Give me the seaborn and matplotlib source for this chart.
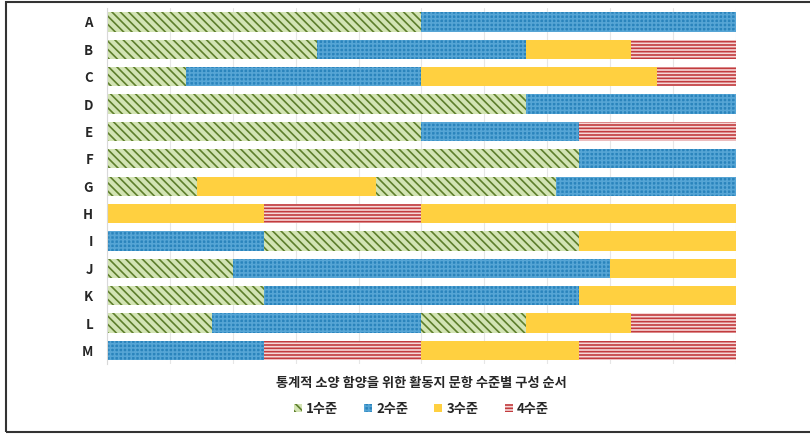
import pandas as pd
import seaborn as sns
import matplotlib.pyplot as plt
import matplotlib.patches as mpatches

# -------------------------
# data: order of item levels per worksheet (each item = equal share)
# -------------------------
rows = list("ABCDEFGHIJKLM")
seq_A = [1, 2]
seq_B = [1, 1, 2, 2, 3, 4]
seq_C = [1, 2, 2, 2, 3, 3, 3, 4]
seq_D = [1, 1, 1, 1, 2, 2]
seq_E = [1, 1, 2, 4]
seq_F = [1, 1, 1, 2]
seq_G = [1, 3, 3, 1, 1, 2, 2]
seq_H = [3, 4, 3, 3]
seq_I = [2, 1, 1, 3]
seq_J = [1, 2, 2, 2, 3]
seq_K = [1, 2, 2, 3]
seq_L = [1, 2, 2, 1, 3, 4]
seq_M = [2, 4, 3, 4]
level_names = ["1수준", "2수준", "3수준", "4수준"]
xlabel = "통계적 소양 함양을 위한 활동지 문항 수준별 구성 순서"

seqs = [seq_A, seq_B, seq_C, seq_D, seq_E, seq_F, seq_G,
        seq_H, seq_I, seq_J, seq_K, seq_L, seq_M]

# level -> (face, hatch, hatch colour)
styles = {
    1: ("#d3e4b4", "\\\\\\\\", "#5e7f2c"),
    2: ("#2a84bc", "++++", "#56a5d5"),
    3: ("#ffd040", "", "#ffd040"),
    4: ("#f5d8d8", "-----", "#c23b3e"),
}

recs = []
for r, s in zip(rows, seqs):
    n = len(s)
    for k, lv in enumerate(s):
        recs.append({"row": r, "k": k, "end": (k + 1) / n, "level": lv})
df = pd.DataFrame(recs)

sns.set_style("white")
plt.rcParams["font.family"] = ["Noto Sans CJK KR", "DejaVu Sans"]
plt.rcParams["hatch.linewidth"] = 1.2

fig = plt.figure(figsize=(8.1, 4.34), dpi=100)
ax = fig.add_axes([0.132, 0.161, 0.7765, 0.82])

# draw cumulative segments, longest first so shorter ones cover them
for k in sorted(df["k"].unique(), reverse=True):
    sub = df[df["k"] == k].set_index("row")
    n0 = len(ax.patches)
    sns.barplot(data=sub.reset_index(), x="end", y="row", order=rows,
                orient="h", width=0.7, errorbar=None, ax=ax, zorder=2)
    for p in ax.patches[n0:]:
        idx = int(round(p.get_y() + p.get_height() / 2))
        lv = sub.loc[rows[idx], "level"]
        face, hatch, hc = styles[lv]
        p.set_facecolor(face)
        p.set_edgecolor(hc)
        p.set_hatch(hatch)
        p.set_linewidth(0)

ax.set_xlim(0, 1)
ax.set_ylim(12.5, -0.5)
ax.set_xticks([i / 10 for i in range(11)])
ax.set_xticklabels([])
ax.tick_params(axis="x", length=0)
ax.tick_params(axis="y", length=0, pad=10)
ax.grid(axis="x", color="#e6e6e6", linewidth=0.8, zorder=0)
ax.set_axisbelow(True)
for lab in ax.get_yticklabels():
    lab.set_fontweight("bold")
    lab.set_fontsize(9.5)
for sp in ["top", "right", "bottom"]:
    ax.spines[sp].set_visible(False)
ax.spines["left"].set_color("#d9d9d9")
ax.set_ylabel("")
ax.set_xlabel(xlabel, fontsize=9.5, fontweight="bold", labelpad=5)

handles = []
for lv, name in zip([1, 2, 3, 4], level_names):
    face, hatch, hc = styles[lv]
    handles.append(mpatches.Patch(facecolor=face, edgecolor=hc, hatch=hatch,
                                  linewidth=0, label=name))
leg = fig.legend(handles=handles, loc="center", bbox_to_anchor=(0.52, 0.058),
                 ncol=4, frameon=False, handlelength=0.6, handleheight=0.6,
                 handletextpad=0.3, columnspacing=2.0,
                 prop={"size": 9.5, "weight": "bold"})

# outer frame
fig.patches.append(mpatches.Rectangle((0.0074, 0.0046), 1.02, 0.991,
                                      transform=fig.transFigure, fill=False,
                                      edgecolor="#333333", linewidth=1.5))

fig.savefig("out.png", dpi=100)
